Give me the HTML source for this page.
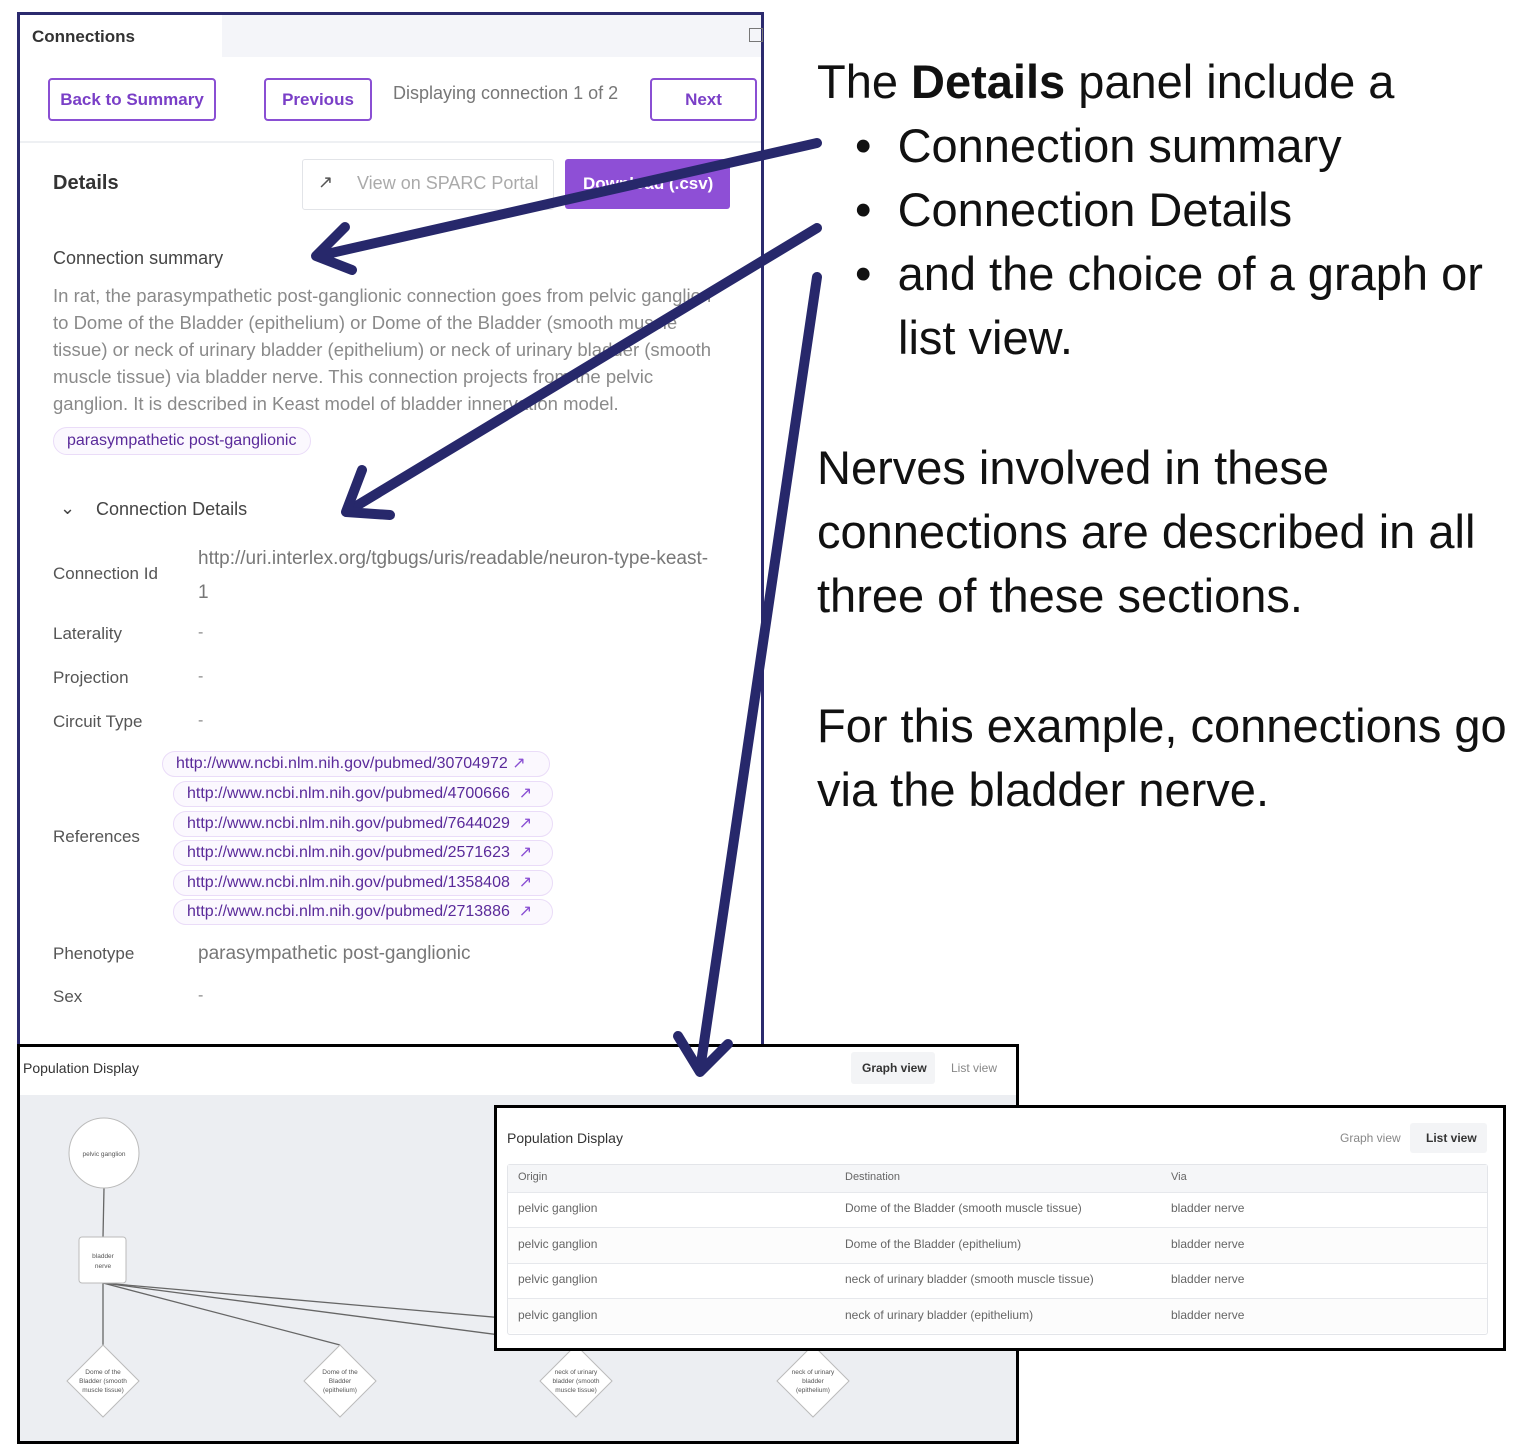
<!DOCTYPE html>
<html><head><meta charset="utf-8"><style>
body{margin:0;width:1522px;height:1456px;background:#fff;position:relative;overflow:hidden;font-family:"Liberation Sans",sans-serif}
.a{position:absolute;white-space:nowrap}
.btn{position:absolute;border:2px solid #8a4fd3;border-radius:4px;color:#7a3fc7;font-size:17px;font-weight:bold;display:flex;align-items:center;justify-content:center;box-sizing:border-box;background:#fff}
.lbl{position:absolute;color:#555;font-size:17px}
.pill{position:absolute;height:26px;border:1px solid #eadcf8;background:#fbf8fe;border-radius:14px;color:#5a2a9a;font-size:16px;box-sizing:border-box;padding-left:13px;line-height:24px;white-space:nowrap}
.big{position:absolute;font-size:47px;color:#111;white-space:nowrap}
.hl{position:absolute;left:508px;width:979px;height:1px;background:#e6e8ec}
</style></head><body>

<div style="position:absolute;left:17px;top:12px;width:741px;height:1040px;border:3px solid #2b2a6e;border-bottom:none;background:#fff"></div>
<div style="position:absolute;left:222px;top:15px;width:539px;height:42px;background:#f4f5f9"></div>
<div style="position:absolute;left:749px;top:28px;width:12px;height:12px;border:1px solid #777"></div>
<div class="a" style="left:32px;top:27px;font-size:17px;color:#333;font-weight:bold">Connections</div>
<div class="btn" style="left:48px;top:78px;width:168px;height:43px">Back to Summary</div>
<div class="btn" style="left:264px;top:78px;width:108px;height:43px">Previous</div>
<div class="a" style="left:393px;top:83px;font-size:18px;color:#777">Displaying connection 1 of 2</div>
<div class="btn" style="left:650px;top:78px;width:107px;height:43px">Next</div>
<div style="position:absolute;left:20px;top:141px;width:741px;height:2px;background:#eef0f3"></div>

<div class="a" style="left:53px;top:172px;font-size:20px;color:#333;font-weight:bold">Details</div>
<div style="position:absolute;left:302px;top:159px;width:252px;height:51px;border:1px solid #e2e4e8;border-radius:3px;box-sizing:border-box"></div>
<div class="a" style="left:318px;top:172px;font-size:18px;color:#555">↗</div>
<div class="a" style="left:357px;top:173px;font-size:18px;color:#aaa">View on SPARC Portal</div>
<div style="position:absolute;left:565px;top:159px;width:165px;height:50px;background:#8e4fd6;border-radius:3px"></div>
<div class="a" style="left:583px;top:174px;font-size:17px;color:#fff;font-weight:bold">Download (.csv)</div>

<div class="a" style="left:53px;top:248px;font-size:18px;color:#444">Connection summary</div>
<div class="a" style="left:53px;top:282px;font-size:18.5px;color:#8a8a8a;line-height:27px">In rat, the parasympathetic post-ganglionic connection goes from pelvic ganglion<br>to Dome of the Bladder (epithelium) or Dome of the Bladder (smooth muscle<br>tissue) or neck of urinary bladder (epithelium) or neck of urinary bladder (smooth<br>muscle tissue) via bladder nerve. This connection projects from the pelvic<br>ganglion. It is described in Keast model of bladder innervation model.</div>
<div class="pill" style="left:53px;top:427px;width:258px;height:28px;line-height:26px">parasympathetic post-ganglionic</div>

<div class="a" style="left:60px;top:498px;font-size:18px;color:#444">⌄</div>
<div class="a" style="left:96px;top:499px;font-size:18px;color:#444">Connection Details</div>

<div class="lbl" style="left:53px;top:564px">Connection Id</div>
<div class="a" style="left:198px;top:542px;font-size:19px;color:#777;line-height:34px">http://uri.interlex.org/tgbugs/uris/readable/neuron-type-keast-<br>1</div>
<div class="lbl" style="left:53px;top:624px">Laterality</div><div class="a" style="left:198px;top:624px;color:#888">-</div>
<div class="lbl" style="left:53px;top:668px">Projection</div><div class="a" style="left:198px;top:668px;color:#888">-</div>
<div class="lbl" style="left:53px;top:712px">Circuit Type</div><div class="a" style="left:198px;top:712px;color:#888">-</div>
<div class="lbl" style="left:53px;top:827px">References</div>
<div class="pill" style="left:162px;top:751px;width:388px">http://www.ncbi.nlm.nih.gov/pubmed/30704972 <span style="color:#8a4fd3">↗</span></div>
<div class="pill" style="left:173px;top:781px;width:380px">http://www.ncbi.nlm.nih.gov/pubmed/4700666 &nbsp;<span style="color:#8a4fd3">↗</span></div>
<div class="pill" style="left:173px;top:811px;width:380px">http://www.ncbi.nlm.nih.gov/pubmed/7644029 &nbsp;<span style="color:#8a4fd3">↗</span></div>
<div class="pill" style="left:173px;top:840px;width:380px">http://www.ncbi.nlm.nih.gov/pubmed/2571623 &nbsp;<span style="color:#8a4fd3">↗</span></div>
<div class="pill" style="left:173px;top:870px;width:380px">http://www.ncbi.nlm.nih.gov/pubmed/1358408 &nbsp;<span style="color:#8a4fd3">↗</span></div>
<div class="pill" style="left:173px;top:899px;width:380px">http://www.ncbi.nlm.nih.gov/pubmed/2713886 &nbsp;<span style="color:#8a4fd3">↗</span></div>
<div class="lbl" style="left:53px;top:944px">Phenotype</div>
<div class="a" style="left:198px;top:943px;font-size:19px;color:#777">parasympathetic post-ganglionic</div>
<div class="lbl" style="left:53px;top:987px">Sex</div><div class="a" style="left:198px;top:987px;color:#888">-</div>

<div style="position:absolute;left:17px;top:1044px;width:996px;height:394px;border:3px solid #000;background:#eceef2"></div>
<div style="position:absolute;left:20px;top:1047px;width:996px;height:48px;background:#fff"></div>
<div class="a" style="left:23px;top:1060px;font-size:14px;color:#333">Population Display</div>
<div style="position:absolute;left:851px;top:1052px;width:84px;height:32px;background:#f3f4f6;border-radius:3px"></div>
<div class="a" style="left:862px;top:1061px;font-size:12px;color:#333;font-weight:bold">Graph view</div>
<div class="a" style="left:951px;top:1061px;font-size:12px;color:#888">List view</div>
<svg style="position:absolute;left:0;top:0" width="1522" height="1456">
<g stroke="#666" stroke-width="1.3" fill="none">
<line x1="104" y1="1188" x2="103" y2="1237"/>
<line x1="103" y1="1283" x2="103" y2="1345"/>
<line x1="103" y1="1283" x2="340" y2="1345"/>
<line x1="103" y1="1283" x2="576" y2="1345"/>
<line x1="103" y1="1283" x2="813" y2="1345"/>
</g>
<g stroke="#bbb" stroke-width="1" fill="#fff">
<ellipse cx="104" cy="1153" rx="35" ry="35"/>
<rect x="79" y="1237" width="47" height="46" rx="3"/>
<polygon points="103,1345 139,1381 103,1417 67,1381"/>
<polygon points="340,1345 376,1381 340,1417 304,1381"/>
<polygon points="576,1345 612,1381 576,1417 540,1381"/>
<polygon points="813,1345 849,1381 813,1417 777,1381"/>
</g>
<g font-family="Liberation Sans" font-size="6.5" fill="#555" text-anchor="middle">
<text x="104" y="1156">pelvic ganglion</text>
<text x="103" y="1258">bladder</text><text x="103" y="1268">nerve</text>
<text x="103" y="1374">Dome of the</text><text x="103" y="1383">Bladder (smooth</text><text x="103" y="1392">muscle tissue)</text>
<text x="340" y="1374">Dome of the</text><text x="340" y="1383">Bladder</text><text x="340" y="1392">(epithelium)</text>
<text x="576" y="1374">neck of urinary</text><text x="576" y="1383">bladder (smooth</text><text x="576" y="1392">muscle tissue)</text>
<text x="813" y="1374">neck of urinary</text><text x="813" y="1383">bladder</text><text x="813" y="1392">(epithelium)</text>
</g>
</svg>

<div style="position:absolute;left:494px;top:1105px;width:1006px;height:240px;border:3px solid #000;background:#fff"></div>
<div class="a" style="left:507px;top:1130px;font-size:14px;color:#333">Population Display</div>
<div class="a" style="left:1340px;top:1131px;font-size:12px;color:#888">Graph view</div>
<div style="position:absolute;left:1410px;top:1123px;width:77px;height:30px;background:#f3f4f6;border-radius:3px"></div>
<div class="a" style="left:1426px;top:1131px;font-size:12px;color:#333;font-weight:bold">List view</div>
<div style="position:absolute;left:507px;top:1164px;width:981px;height:171px;border:1px solid #e3e5e9;border-radius:3px;box-sizing:border-box;background:#fff"></div>
<div style="position:absolute;left:508px;top:1165px;width:979px;height:27px;background:#f5f6f8"></div>
<div style="position:absolute;left:508px;top:1228px;width:979px;height:35px;background:#fcfcfc"></div>
<div style="position:absolute;left:508px;top:1299px;width:979px;height:34px;background:#fcfcfc"></div>
<div class="hl" style="top:1192px"></div><div class="hl" style="top:1227px"></div><div class="hl" style="top:1263px"></div><div class="hl" style="top:1298px"></div>
<div class="a" style="left:518px;top:1171px;font-size:11px;color:#666">Origin</div>
<div class="a" style="left:845px;top:1171px;font-size:11px;color:#666">Destination</div>
<div class="a" style="left:1171px;top:1171px;font-size:11px;color:#666">Via</div>
<div class="a" style="left:518px;top:1191px;font-size:12px;color:#666;line-height:35.7px">pelvic ganglion<br>pelvic ganglion<br>pelvic ganglion<br>pelvic ganglion</div>
<div class="a" style="left:845px;top:1191px;font-size:12px;color:#666;line-height:35.7px">Dome of the Bladder (smooth muscle tissue)<br>Dome of the Bladder (epithelium)<br>neck of urinary bladder (smooth muscle tissue)<br>neck of urinary bladder (epithelium)</div>
<div class="a" style="left:1171px;top:1191px;font-size:12px;color:#666;line-height:35.7px">bladder nerve<br>bladder nerve<br>bladder nerve<br>bladder nerve</div>

<div class="big" style="left:817px;top:54px">The <b>Details</b> panel include a</div>
<div class="big" style="left:855px;top:118px">•&nbsp; Connection summary</div>
<div class="big" style="left:855px;top:182px">•&nbsp; Connection Details</div>
<div class="big" style="left:855px;top:246px">•&nbsp; and the choice of a graph or</div>
<div class="big" style="left:898px;top:310px">list view.</div>
<div class="big" style="left:817px;top:436px;line-height:64px">Nerves involved in these<br>connections are described in all<br>three of these sections.</div>
<div class="big" style="left:817px;top:694px;line-height:64px">For this example, connections go<br>via the bladder nerve.</div>

<svg style="position:absolute;left:0;top:0" width="1522" height="1456">
<g stroke="#27286b" stroke-width="10" fill="none" stroke-linecap="round" stroke-linejoin="round">
<line x1="817" y1="143" x2="318" y2="256"/>
<polyline points="345,227 316,256 352,270"/>
<line x1="817" y1="228" x2="348" y2="511"/>
<polyline points="362,470 346,512 390,515"/>
<line x1="817" y1="277" x2="700" y2="1070"/>
<polyline points="678,1036 700,1072 728,1044"/>
</g>
</svg>
</body></html>
